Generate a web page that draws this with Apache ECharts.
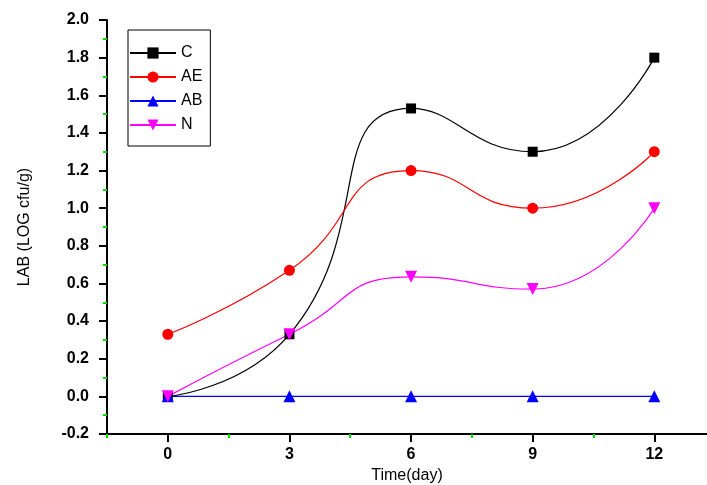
<!DOCTYPE html>
<html>
<head>
<meta charset="utf-8">
<script src="https://cdn.jsdelivr.net/npm/echarts@6/dist/echarts.min.js"></script>
<style>
  html, body { margin: 0; padding: 0; background: #fff; }
  #main { width: 707px; height: 485px; }
</style>
</head>
<body>
<div id="main"></div>
<script>
// days sampled
const days = [0, 3, 6, 9, 12]
const seriesNames = ['C', 'AE', 'AB', 'N']
const valC = [0, 0.33, 1.53, 1.30, 1.80]
const valAE = [0.33, 0.67, 1.20, 1.00, 1.30]
const valAB = [0, 0, 0, 0, 0]
const valN = [0, 0.33, 0.635, 0.57, 1.00]
const majorX = [0, 3, 6, 9, 12]
const minorX = [-1.5, 1.5, 4.5, 7.5, 10.5]

const pairs = vals => days.map((d, i) => [d, vals[i]])

const chart = echarts.init(document.getElementById('main'))

const mk = (name, vals, color, symbol, size, rot) => ({
  name: name,
  type: 'line',
  data: pairs(vals),
  smooth: 0.55,
  symbol: symbol,
  symbolSize: size,
  symbolRotate: rot || 0,
  showSymbol: true,
  lineStyle: { color: color, width: 1.2 },
  itemStyle: { color: color },
  emphasis: { disabled: true }
})

const tickFont = {
  fontFamily: 'Liberation Sans',
  fontWeight: 'bold',
  fontSize: 16,
  color: '#000'
}

chart.setOption({
  animation: false,
  backgroundColor: '#fff',
  grid: { left: 107, top: 20, right: 0, bottom: 51, outerBoundsMode: 'none', containLabel: false },
  legend: {
    left: 128,
    top: 30,
    orient: 'vertical',
    data: seriesNames,
    borderColor: '#000',
    borderWidth: 1,
    padding: [15, 8, 13, 1],
    itemWidth: 46,
    itemHeight: 14,
    itemGap: 8,
    textStyle: { fontFamily: 'Liberation Sans', fontSize: 16, color: '#000' }
  },
  xAxis: [
    {
      type: 'value',
      min: -1.5,
      max: 13.3,
      name: 'Time(day)',
      nameLocation: 'middle',
      nameGap: 28,
      nameTextStyle: { fontFamily: 'Liberation Sans', fontSize: 16, color: '#000' },
      axisLine: { show: true, onZero: false, lineStyle: { color: '#000', width: 2 } },
      axisTick: { show: true, customValues: majorX, length: 8, lineStyle: { color: '#000', width: 2 } },
      axisLabel: Object.assign({ customValues: majorX, margin: 13 }, tickFont),
      splitLine: { show: false }
    },
    {
      type: 'value',
      min: -1.5,
      max: 13.3,
      position: 'bottom',
      axisLine: { show: false, onZero: false },
      axisTick: { show: true, customValues: minorX, length: 4, lineStyle: { color: '#00dd00', width: 2 } },
      axisLabel: { show: false },
      splitLine: { show: false }
    }
  ],
  yAxis: {
    type: 'value',
    min: -0.2,
    max: 2.0,
    interval: 0.2,
    name: 'LAB (LOG cfu/g)',
    nameLocation: 'middle',
    nameGap: 74,
    nameTextStyle: { fontFamily: 'Liberation Sans', fontSize: 16, color: '#000' },
    axisLine: { show: true, onZero: false, lineStyle: { color: '#000', width: 2 } },
    axisTick: { show: true, length: 8, lineStyle: { color: '#000', width: 2 } },
    minorTick: { show: true, splitNumber: 2, length: 4, lineStyle: { color: '#00dd00', width: 2 } },
    axisLabel: Object.assign({ margin: 18, formatter: v => v.toFixed(1) }, tickFont),
    splitLine: { show: false }
  },
  series: [
    mk('C', valC, '#000000', 'rect', 10),
    mk('AE', valAE, '#ff0000', 'circle', 11),
    mk('AB', valAB, '#0000ff', 'triangle', 12),
    mk('N', valN, '#ff00ff', 'triangle', 12, 180)
  ]
})
</script>
</body>
</html>
